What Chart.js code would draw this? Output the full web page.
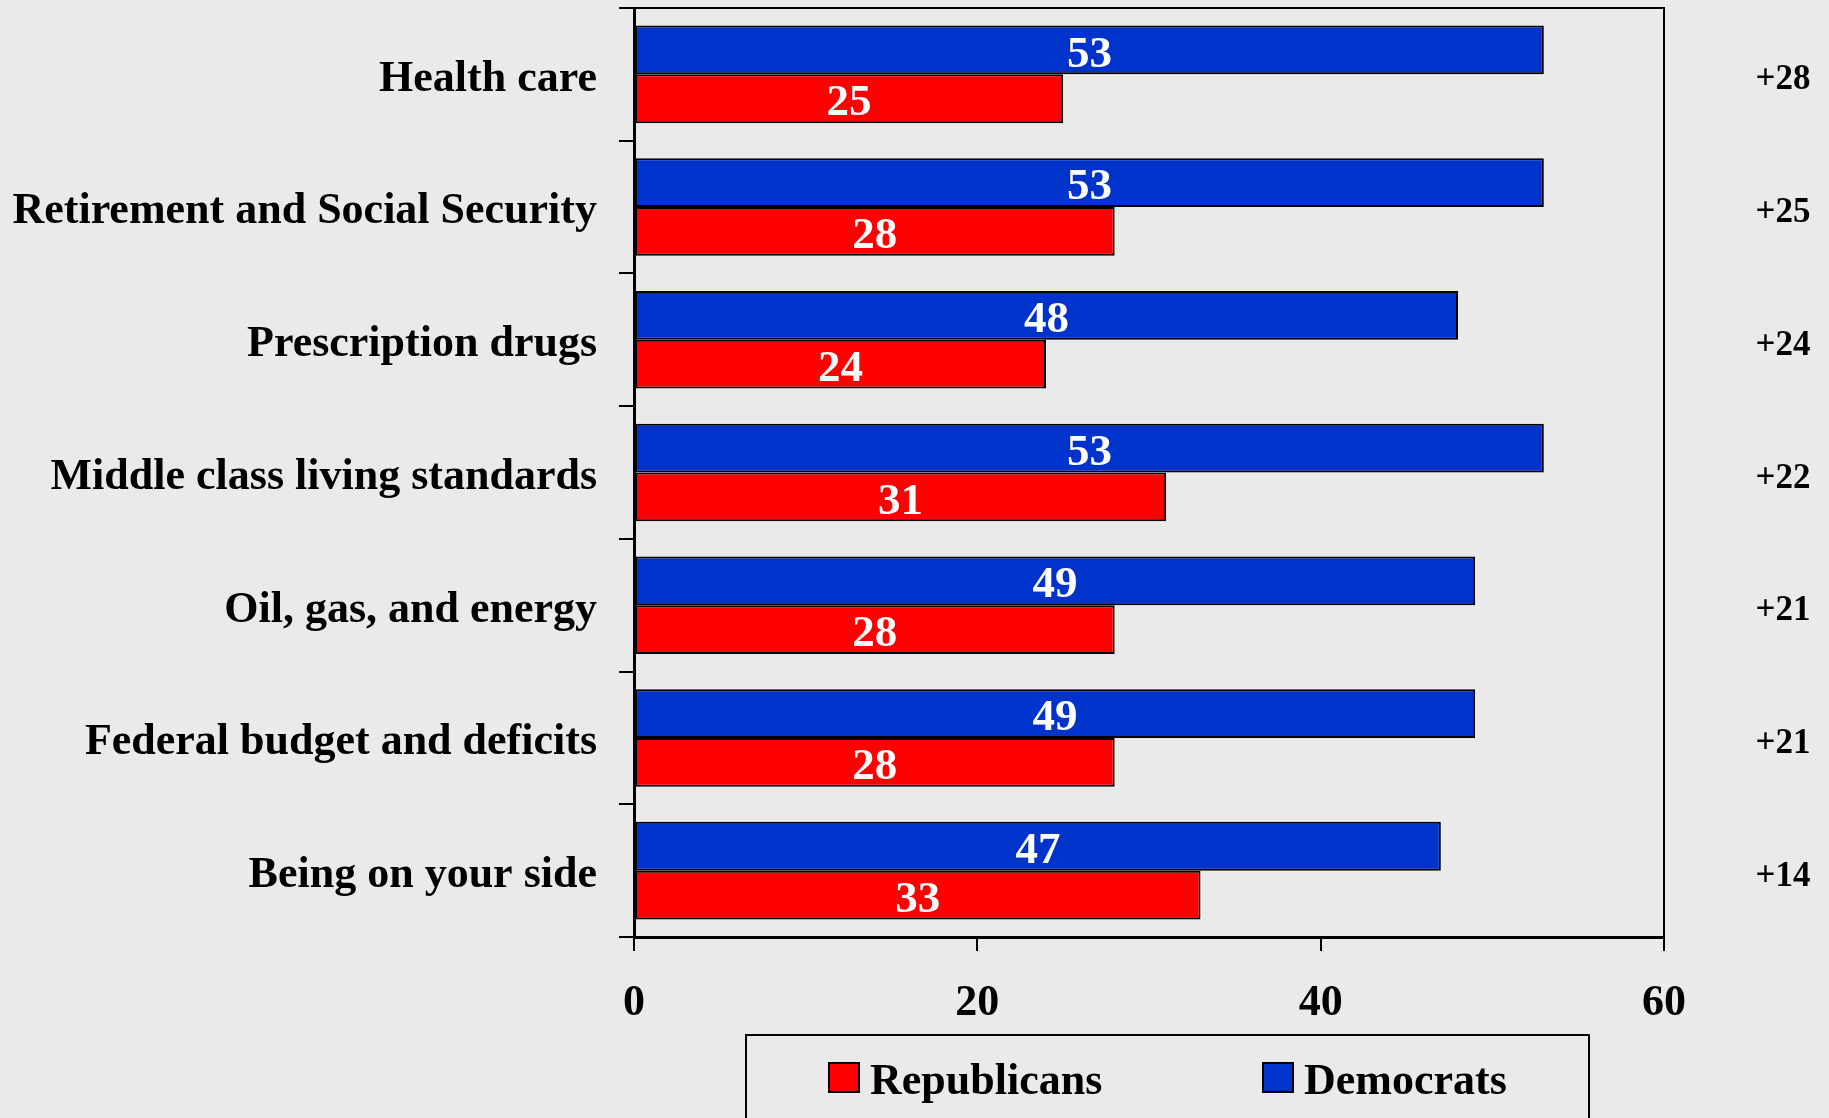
<!DOCTYPE html>
<html>
<head>
<meta charset="utf-8">
<script src="https://cdn.jsdelivr.net/npm/chart.js@4.4.1/dist/chart.umd.min.js"></script>
<style>
  html, body { margin: 0; padding: 0; background: #eaeaea; overflow: hidden; }
  #wrap { width: 1829px; height: 1118px; position: relative; }
</style>
</head>
<body>
<div id="wrap"><canvas id="chart"></canvas></div>
<script>
// 데이터
const categories = [
  "Health care",
  "Retirement and Social Security",
  "Prescription drugs",
  "Middle class living standards",
  "Oil, gas, and energy",
  "Federal budget and deficits",
  "Being on your side",
];
const democrats = [53, 53, 48, 53, 49, 49, 47];
const republicans = [25, 28, 24, 31, 28, 28, 33];
const xTicks = [0, 20, 40, 60];

const FONT = "'Liberation Serif', 'Times New Roman', serif";
const BLUE = "#0033cc";
const RED = "#ff0000";

// 바 안의 숫자 + 오른쪽 차이값
const labelPlugin = {
  id: "barLabels",
  afterDatasetsDraw(chart) {
    const ctx = chart.ctx;
    ctx.save();
    ctx.font = `bold 45px ${FONT}`;
    ctx.textAlign = "center";
    ctx.textBaseline = "middle";
    ctx.fillStyle = "#fff";
    chart.data.datasets.forEach((ds, di) => {
      const meta = chart.getDatasetMeta(di);
      meta.data.forEach((bar, i) => {
        ctx.fillText(String(ds.data[i]), (bar.x + bar.base) / 2, bar.y + 5);
      });
    });

    // 차이값
    const dem = chart.getDatasetMeta(0).data;
    const rep = chart.getDatasetMeta(1).data;
    ctx.font = `bold 35px ${FONT}`;
    ctx.fillStyle = "#000";
    categories.forEach((c, i) => {
      const diff = democrats[i] - republicans[i];
      const y = (dem[i].y + rep[i].y) / 2;
      ctx.fillText((diff > 0 ? "+" : "") + diff, chart.chartArea.right + 119, y + 6);
    });
    ctx.restore();
  },
  afterDraw(chart) {
    const ctx = chart.ctx;
    const a = chart.chartArea;
    ctx.save();
    // 플롯 테두리 (위, 오른쪽)
    ctx.strokeStyle = "#000";
    ctx.lineWidth = 2;
    ctx.beginPath();
    ctx.moveTo(a.left, a.top);
    ctx.lineTo(a.right, a.top);
    ctx.lineTo(a.right, a.bottom);
    ctx.stroke();

    // 범례
    const lx = 746, ly = 1035;
    ctx.lineWidth = 2;
    ctx.strokeRect(lx, ly, 843, 120);
    const items = [
      { text: "Republicans", color: RED, x: 829 },
      { text: "Democrats", color: BLUE, x: 1263 },
    ];
    ctx.font = `bold 44px ${FONT}`;
    ctx.textAlign = "left";
    ctx.textBaseline = "middle";
    items.forEach((it) => {
      ctx.fillStyle = it.color;
      ctx.fillRect(it.x, 1063, 30, 29);
      ctx.strokeRect(it.x, 1063, 30, 29);
      ctx.fillStyle = "#000";
      ctx.fillText(it.text, it.x + 41, 1083);
    });
    ctx.restore();
  },
};

// 배경
const bgPlugin = {
  id: "bg",
  beforeDraw(chart) {
    const ctx = chart.ctx;
    ctx.save();
    ctx.fillStyle = "#eaeaea";
    ctx.fillRect(0, 0, chart.width, chart.height);
    ctx.restore();
  },
};

new Chart(document.getElementById("chart").getContext("2d"), {
  type: "bar",
  data: {
    labels: categories,
    datasets: [
      {
        label: "Democrats",
        data: democrats,
        backgroundColor: BLUE,
        borderColor: "#000",
        borderWidth: 2,
        borderSkipped: false,
        categoryPercentage: 0.735,
        barPercentage: 1,
      },
      {
        label: "Republicans",
        data: republicans,
        backgroundColor: RED,
        borderColor: "#000",
        borderWidth: 2,
        borderSkipped: false,
        categoryPercentage: 0.735,
        barPercentage: 1,
      },
    ],
  },
  options: {
    indexAxis: "y",
    responsive: true,
    maintainAspectRatio: false,
    animation: false,
    layout: { padding: { top: 8, right: 165, bottom: 0, left: 0 } },
    plugins: {
      legend: { display: false },
      tooltip: { enabled: false },
    },
    scales: {
      x: {
        min: xTicks[0],
        max: xTicks[xTicks.length - 1],
        afterBuildTicks: (s) => {
          s.ticks = xTicks.map((v) => ({ value: v }));
        },
        afterFit: (s) => {
          s.height = 181;
          s.paddingLeft = 0;
          s.paddingRight = 0;
        },
        ticks: {
          color: "#000",
          font: { family: FONT, size: 44, weight: "bold" },
          padding: 26,
        },
        grid: {
          drawOnChartArea: false,
          tickLength: 14,
          color: "#000",
          lineWidth: 2,
        },
        border: { color: "#000", width: 3 },
      },
      y: {
        afterFit: (s) => {
          s.width = 634;
          s.paddingTop = 0;
          s.paddingBottom = 0;
        },
        ticks: {
          color: "#000",
          font: { family: FONT, size: 44, weight: "bold" },
          padding: 22,
          labelOffset: 5,
        },
        grid: {
          drawOnChartArea: false,
          tickLength: 15,
          color: "#000",
          lineWidth: 2,
          offset: true,
        },
        border: { color: "#000", width: 3 },
      },
    },
  },
  plugins: [bgPlugin, labelPlugin],
});
</script>
</body>
</html>
